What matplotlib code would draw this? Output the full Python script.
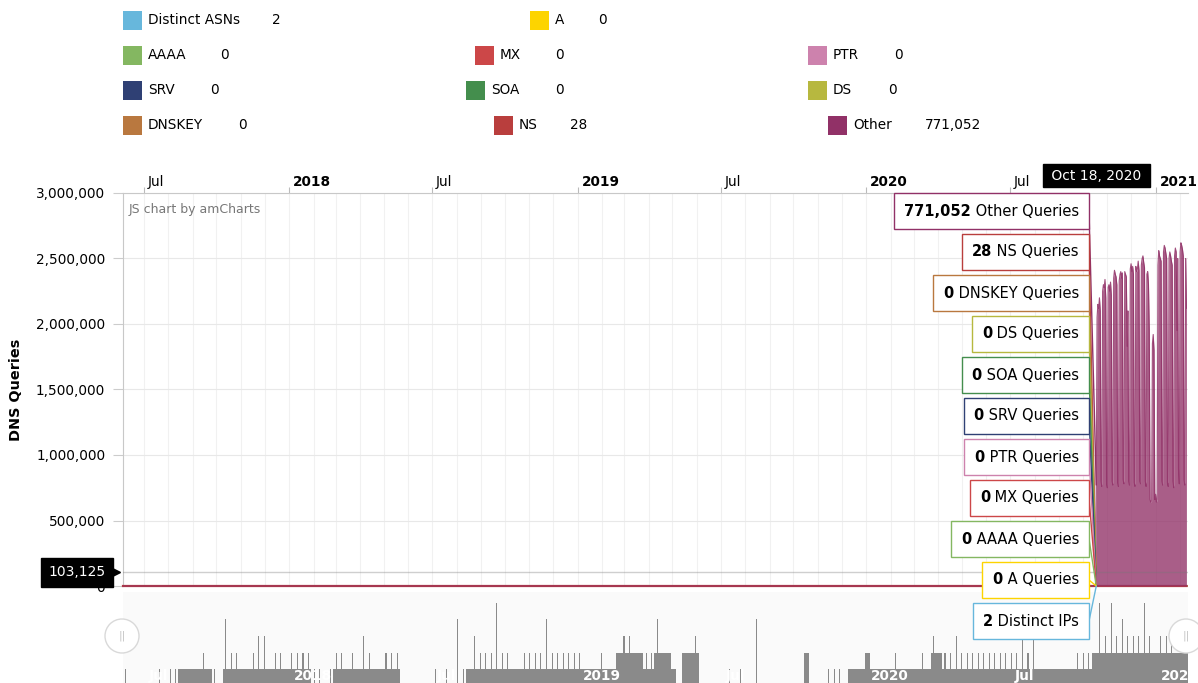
import numpy as np
import pandas as pd
import matplotlib
matplotlib.use('Agg')
import matplotlib.pyplot as plt
from matplotlib import dates as mdates
from matplotlib import transforms
from matplotlib.patches import Rectangle, Circle, ConnectionPatch
from matplotlib.offsetbox import TextArea, HPacker, AnnotationBbox
from matplotlib.ticker import FuncFormatter

plt.rcParams['font.family'] = ['DejaVu Sans']

W, H = 1198, 683

# series, amCharts default colours, totals shown in legend
series = ['Distinct ASNs', 'A', 'AAAA', 'MX', 'PTR', 'SRV', 'SOA', 'DS', 'DNSKEY', 'NS', 'Other']
colors = ['#67b7dc', '#fdd400', '#84b761', '#cc4748', '#cd82ad', '#2f4074',
          '#448e4d', '#b7b83f', '#b9783f', '#b93e3d', '#913167']
totals = ['2', '0', '0', '0', '0', '0', '0', '0', '0', '28', '771,052']

start = '2017-06-05'
last_day = '2021-02-09'
end = '2021-02-11'
cursor = '2020-10-18'
cursor_label = 'Oct 18, 2020'
cursor_y = 103125
ns_on_cursor = 28

# "Other" queries per day from Oct 18, 2020 (millions), zero before
other_m = [
    0.771052,
    2.05, 2.15, 2.12, 2.20, 2.10, 0.80, 0.76,
    2.25, 2.30, 2.28, 2.34, 2.20, 0.78, 0.75,
    2.28, 2.30, 2.25, 2.32, 2.22, 0.80, 0.77,
    2.35, 2.41, 2.38, 2.36, 2.30, 0.79, 0.76,
    2.33, 2.38, 2.40, 2.35, 2.39, 0.81, 0.78,
    2.40, 2.38, 2.36, 1.83, 2.10, 0.80, 0.77,
    2.42, 2.46, 2.40, 2.44, 2.38, 0.79, 0.76,
    2.44, 2.40, 2.42, 2.48, 2.41, 0.80, 0.78,
    2.45, 2.50, 2.52, 2.47, 2.43, 0.80, 0.76,
    2.38, 2.40, 2.30, 1.95, 0.66, 0.64, 0.65,
    1.85, 1.92, 1.80, 0.66, 0.70, 0.64, 0.66,
    2.45, 2.56, 2.52, 2.50, 2.48, 0.80, 0.77,
    2.55, 2.60, 2.58, 2.54, 2.50, 0.79, 0.76,
    2.50, 2.55, 2.52, 2.48, 2.45, 0.80, 0.75,
    2.52, 2.58, 2.55, 1.95, 2.50, 0.89, 0.78,
    2.55, 2.62, 2.60, 2.57, 2.52, 0.81, 0.77,
    2.50, 2.12,
]

# scrollbar graph (distinct IPs), weekly from start: plateau level and single-day peak
nav_base = [
    0, 0, 0, 0, 0, 0, 0, 0, 0, 0,
    1, 1, 1, 1, 1, 1, 0, 0, 1, 1,
    1, 1, 1, 1, 1, 1, 1, 1, 1, 1,
    1, 1, 1, 1, 0, 0, 0, 0, 1, 1,
    1, 1, 1, 1, 1, 1, 1, 1, 1, 1,
    0, 0, 0, 0, 0, 0, 0, 0, 0, 0,
    0, 0, 1, 1, 1, 1, 1, 1, 1, 1,
    1, 1, 1, 1, 1, 1, 1, 1, 1, 1,
    1, 1, 1, 1, 1, 1, 1, 1, 1, 2,
    2, 2, 2, 2, 1, 1, 2, 2, 2, 1,
    0, 2, 2, 2, 0, 0, 0, 0, 0, 0,
    0, 0, 0, 0, 0, 0, 0, 0, 0, 0,
    0, 0, 0, 2, 0, 0, 0, 0, 0, 0,
    0, 1, 1, 1, 2, 1, 1, 1, 1, 1,
    1, 1, 1, 1, 1, 1, 2, 2, 1, 1,
    1, 1, 1, 1, 1, 1, 1, 1, 1, 1,
    1, 1, 1, 1, 1, 1, 1, 1, 1, 1,
    1, 1, 1, 1, 1, 2, 2, 2, 2, 2,
    2, 2, 2, 2, 2, 2, 2, 2, 2, 2,
    2, 2, 2,
]
nav_peak = [
    1, 0, 0, 0, 0, 0, 1, 0, 1, 1,
    0, 0, 0, 0, 2, 0, 1, 0, 4, 2,
    2, 0, 0, 2, 3, 3, 0, 2, 2, 0,
    2, 2, 2, 2, 1, 1, 0, 1, 2, 2,
    0, 2, 0, 3, 2, 0, 0, 2, 2, 2,
    0, 0, 0, 0, 0, 0, 1, 0, 1, 0,
    4, 1, 0, 3, 2, 2, 2, 5, 2, 2,
    0, 0, 2, 2, 2, 2, 4, 2, 2, 2,
    2, 2, 2, 0, 0, 0, 2, 0, 0, 0,
    3, 3, 0, 0, 2, 2, 4, 0, 0, 0,
    0, 0, 0, 3, 0, 0, 0, 0, 0, 1,
    0, 1, 0, 0, 4, 0, 0, 0, 0, 0,
    0, 0, 0, 0, 0, 0, 0, 1, 1, 1,
    0, 0, 0, 0, 0, 0, 0, 0, 0, 2,
    0, 0, 0, 0, 2, 0, 3, 0, 2, 2,
    3, 2, 2, 2, 2, 2, 2, 2, 2, 2,
    2, 2, 3, 2, 3, 0, 0, 0, 0, 0,
    0, 0, 2, 2, 2, 0, 5, 3, 5, 3,
    4, 3, 3, 3, 5, 3, 0, 3, 3, 3,
    0, 0, 0,
]

tick_dates = ['2017-07-01', '2018-01-01', '2018-07-01', '2019-01-01',
              '2019-07-01', '2020-01-01', '2020-07-01', '2021-01-01']
tick_text = ['Jul', '2018', 'Jul', '2019', 'Jul', '2020', 'Jul', '2021']

# legend layout (pixels): square x, value x, row
leg_sq_x = [123, 530, 123, 475, 808, 123, 466, 808, 123, 494, 828]
leg_val_x = [272, 598, 220, 555, 894, 210, 555, 888, 238, 570, 925]
leg_row = [0, 0, 1, 1, 1, 2, 2, 2, 3, 3, 3]

# balloon order, top to bottom (index into series)
tip_order = [10, 9, 8, 7, 6, 5, 4, 3, 2, 1, 0]

days = pd.date_range(start, last_day, freq='D')
zeros = np.zeros(len(days))
other = zeros.copy()
other[days >= pd.Timestamp(cursor)] = np.array(other_m) * 1e6
ns = zeros.copy()
ns[days == pd.Timestamp(cursor)] = ns_on_cursor
values_at_cursor = {i: 0 for i in range(len(series))}
values_at_cursor[9] = ns_on_cursor
values_at_cursor[10] = other_m[0] * 1e6

fig = plt.figure(figsize=(W / 100, H / 100), dpi=100)
fig.patch.set_facecolor('white')

# ---- main chart
ax = fig.add_axes([123 / W, (H - 586) / H, 1065 / W, 393 / H])
x0, x1 = pd.Timestamp(start), pd.Timestamp(end)
ax.set_xlim(x0, x1)
ax.set_ylim(0, 3000000)

for i in range(1, 9):
    ax.plot(days, zeros, color=colors[i], lw=1.2, zorder=2, clip_on=False)
ax.plot(days, ns, color=colors[9], lw=1.6, zorder=3, clip_on=False)
ax.fill_between(days, other, color=colors[10], alpha=0.78, lw=0, zorder=3)
ax.plot(days, other, color=colors[10], alpha=0.85, lw=0.8, zorder=4, clip_on=False)

ax.set_yticks(np.arange(0, 3000001, 500000))
ax.yaxis.set_major_formatter(FuncFormatter(lambda v, p: f'{v:,.0f}'))
ax.tick_params(axis='y', length=7, width=0.8, color='#cccccc', pad=5.8, labelsize=9.8)
ax.grid(axis='y', color='#e8e8e8', lw=0.8)

ax.set_xticks([pd.Timestamp(d) for d in tick_dates])
ax.set_xticks(pd.date_range('2017-07-01', '2021-02-01', freq='MS'), minor=True)
ax.xaxis.set_ticks_position('top')
ax.tick_params(axis='x', which='major', length=4, color='#bbbbbb', labeltop=False, labelbottom=False)
ax.tick_params(axis='x', which='minor', length=0)
ax.grid(axis='x', which='both', color='#f1f1f1', lw=0.8)
ax.set_axisbelow(True)

for s in ['right', 'bottom']:
    ax.spines[s].set_visible(False)
for s in ['top', 'left']:
    ax.spines[s].set_color('#c8c8c8')

top_tr = transforms.blended_transform_factory(ax.transData, ax.transAxes)
lbl_off = transforms.ScaledTranslation(4 / 100, 7 / 100, fig.dpi_scale_trans)
for d, t in zip(tick_dates, tick_text):
    ax.text(pd.Timestamp(d), 1.0, t, transform=top_tr + lbl_off, ha='left', va='baseline',
            fontsize=9.8, fontweight='normal' if t == 'Jul' else 'bold', clip_on=False)

ax.set_ylabel('DNS Queries', fontweight='bold', fontsize=10.4, labelpad=9)
ax.text(0.0056, 0.959, 'JS chart by amCharts', transform=ax.transAxes,
        fontsize=9, color='#777777', va='center')

# cursor
ax.axhline(cursor_y, color='#777777', alpha=0.35, lw=1, zorder=5)
ax.text(pd.Timestamp(cursor), 1.0445, ' ' + cursor_label + ' ', transform=top_tr,
        ha='center', va='center', color='white', fontsize=10, clip_on=False, zorder=10,
        bbox=dict(boxstyle='square,pad=0.3', fc='black', ec='black'))
left_tr = transforms.blended_transform_factory(ax.transAxes, ax.transData)
ax.text(-0.0164, cursor_y, f'{cursor_y:,}', transform=left_tr, ha='right', va='center',
        color='white', fontsize=10, clip_on=False, zorder=10,
        bbox=dict(boxstyle='square,pad=0.55', fc='black', ec='black'))
ax.plot([-0.0075], [cursor_y], transform=left_tr, marker='>', ms=7, color='black',
        clip_on=False, zorder=10)

# ---- scrollbar graph
nav = fig.add_axes([123 / W, (H - 686) / H, 1065 / W, 94 / H])
nav.set_facecolor('#fafafa')
nav.set_xlim(x0, x1)
nav.set_ylim(0, 5.63)
weeks = pd.date_range(start, periods=len(nav_base), freq='7D')
nav.bar(weeks, nav_base, width=7, align='edge', color='#8a8a8a', lw=0)
nav.bar(weeks + pd.Timedelta(days=3), nav_peak, width=1.3, align='edge', color='#8a8a8a', lw=0)
nav.set_xticks([])
nav.set_yticks([])
for s in nav.spines.values():
    s.set_visible(False)
nav_tr = transforms.blended_transform_factory(nav.transData, nav.transData)
nav_off = transforms.ScaledTranslation(5 / 100, 0, fig.dpi_scale_trans)
for d, t in zip(tick_dates, tick_text):
    nav.text(pd.Timestamp(d), 0.62, t, transform=nav_tr + nav_off, ha='left', va='center',
             color='white', fontsize=9.8, fontweight='bold')

# ---- overlay in pixel coordinates: legend, balloons, scrollbar handles
lax = fig.add_axes([0, 0, 1, 1], zorder=10)
lax.set_xlim(0, W)
lax.set_ylim(H, 0)
lax.axis('off')

for i, name in enumerate(series):
    yc = 20 + 35 * leg_row[i]
    lax.add_patch(Rectangle((leg_sq_x[i], yc - 9.5), 19, 19, fc=colors[i], ec='none'))
    lax.text(leg_sq_x[i] + 25, yc, name, fontsize=9.8, va='center')
    lax.text(leg_val_x[i], yc, totals[i], fontsize=9.8, va='center')

cx = mdates.date2num(pd.Timestamp(cursor))
for k, i in enumerate(tip_order):
    yc = 211 + 41 * k
    label = 'Distinct IPs' if i == 0 else series[i] + ' Queries'
    pack = HPacker(children=[TextArea(totals[i], textprops=dict(fontweight='bold', fontsize=10.5)),
                             TextArea(' ' + label, textprops=dict(fontsize=10.5))],
                   pad=0, sep=0, align='baseline')
    ab = AnnotationBbox(pack, (1079, yc), xycoords='data', box_alignment=(1, 0.5),
                        frameon=True, pad=0.7, fontsize=10.5, annotation_clip=False,
                        bboxprops=dict(ec=colors[i], fc='white', lw=1))
    lax.add_artist(ab)
    con = ConnectionPatch(xyA=(1089, yc), coordsA=lax.transData,
                          xyB=(cx, values_at_cursor[i]), coordsB=ax.transData,
                          color=colors[i], lw=1)
    con.set_zorder(5)
    fig.add_artist(con)

for hx in [122, 1186]:
    lax.add_patch(Circle((hx, 636), 17, fc='white', ec='#d9d9d9', lw=1))
    lax.text(hx, 636, '||', ha='center', va='center', fontsize=8, color='#c4c4c4')

fig.savefig('out.png', dpi=100)
